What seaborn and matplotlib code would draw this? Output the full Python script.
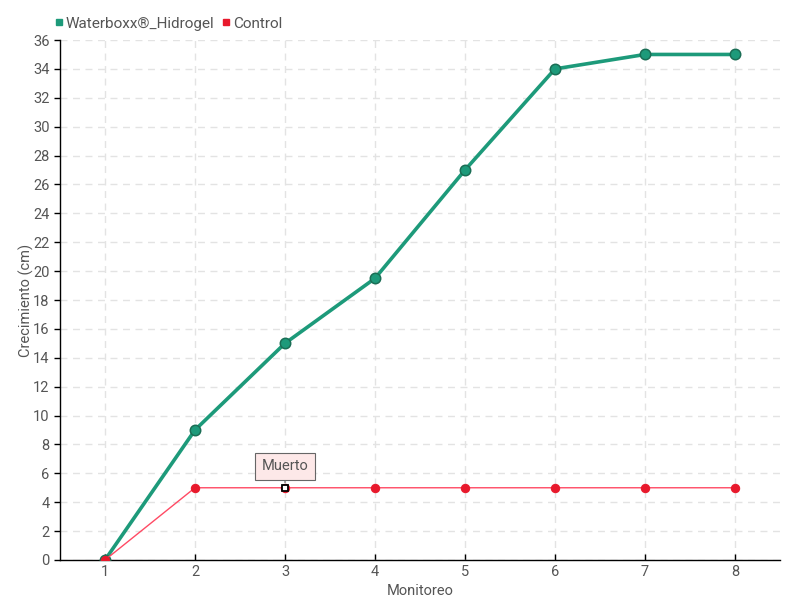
import matplotlib
matplotlib.use("Agg")
import matplotlib.pyplot as plt
import pandas as pd
import seaborn as sns

monitoreo = [1, 2, 3, 4, 5, 6, 7, 8]
waterboxx = [0, 9, 15, 19.5, 27, 34, 35, 35]
control = [0, 5, 5, 5, 5, 5, 5, 5]
series_names = ["Waterboxx®_Hidrogel", "Control"]

df = pd.DataFrame({"monitoreo": monitoreo, "Waterboxx": waterboxx, "Control": control})

sns.set_theme(style="white")
plt.rcParams["font.family"] = ["Roboto", "DejaVu Sans"]
text_color = "#555555"
green = "#1d9a7a"
red = "#e8192c"
fs = 10.5

fig = plt.figure(figsize=(8, 6), dpi=100)
ax = fig.add_axes([0.075, 0.0667, 0.9, 0.8666])

sns.lineplot(data=df, x="monitoreo", y="Waterboxx", ax=ax, color=green, linewidth=2.6,
             marker="o", markersize=7.5, markeredgecolor="#1a6e55", markeredgewidth=1.1, zorder=3)
sns.lineplot(data=df, x="monitoreo", y="Control", ax=ax, color="#ff4a64", linewidth=1,
             marker="o", markersize=6, markerfacecolor=red, markeredgecolor=red, zorder=4)

# dead plant marker
ax.plot(monitoreo[2], control[2], marker="s", markersize=5, markerfacecolor="white",
        markeredgecolor="black", markeredgewidth=1.3, linestyle="none", zorder=5)
ax.annotate("Muerto", xy=(monitoreo[2], control[2] + 0.35), xytext=(monitoreo[2], control[2] + 1.5),
            ha="center", va="center", fontsize=fs, color=text_color,
            bbox=dict(boxstyle="square,pad=0.45", facecolor="#fde8e8", edgecolor="#666666", linewidth=0.8),
            arrowprops=dict(arrowstyle="-", color="#666666", lw=0.8))

ax.set_xlim(0.5, 8.5)
ax.set_ylim(0, 36)
ax.set_xticks(monitoreo)
ax.set_yticks(range(0, 37, 2))
ax.grid(True, linestyle=(0, (5, 4)), color="#e3e3e3", linewidth=1)
ax.set_axisbelow(True)
for side in ["top", "right"]:
    ax.spines[side].set_visible(False)
ax.spines["left"].set_color("black")
ax.spines["bottom"].set_color("black")
ax.spines["left"].set_linewidth(1)
ax.spines["bottom"].set_linewidth(1)
ax.tick_params(axis="both", colors="black", labelcolor=text_color, labelsize=fs, length=4, width=1,
               left=True, bottom=True)
ax.tick_params(axis="x", direction="in")
ax.set_xlabel("Monitoreo", fontsize=fs, color=text_color, labelpad=4)
ax.set_ylabel("Crecimiento (cm)", fontsize=fs, color=text_color)
ax.yaxis.set_label_coords(-0.036, 0.5)

handles = [
    plt.Line2D([], [], marker="s", linestyle="none", color=green, markersize=4.5),
    plt.Line2D([], [], marker="s", linestyle="none", color=red, markersize=4.5),
]
fig.legend(handles, series_names, loc="upper left", bbox_to_anchor=(0.05, 0.995), ncol=2,
           frameon=False, fontsize=fs + 0.5, handletextpad=0.1, columnspacing=0.4, handlelength=0.7,
           labelcolor=text_color)

fig.savefig("out.png", dpi=100)
